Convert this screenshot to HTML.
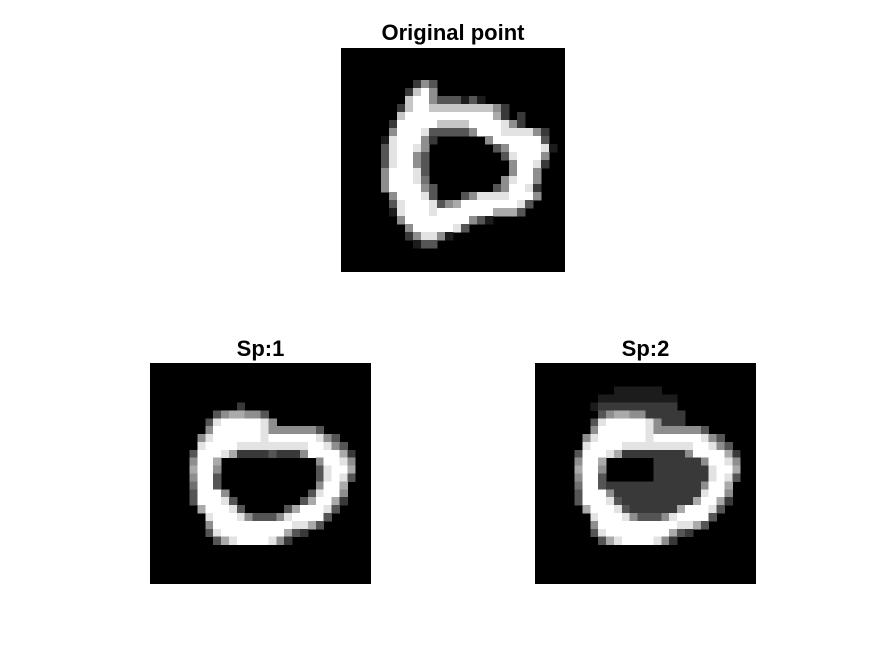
<!DOCTYPE html>
<html><head><meta charset="utf-8"><style>
body{margin:0;background:#fff;width:875px;height:656px;overflow:hidden;font-family:"Liberation Sans",Arial,sans-serif}
svg{position:absolute;left:0;top:0}
</style></head><body>
<svg id="fig" width="875" height="656">
<text x="453" y="40" text-anchor="middle" font-size="22" font-weight="bold">Original point</text>
<text x="260.5" y="356" text-anchor="middle" font-size="22" font-weight="bold">Sp:1</text>
<text x="645.5" y="356" text-anchor="middle" font-size="22" font-weight="bold">Sp:2</text>
</svg>
<script>
const Z="0000000000000000000000000000";
const imgOriginal=[Z,Z,Z,Z,
"0000000002530000000000000000","0000000027950000000000000000","0000000079953331310000000000",
"0000000279977777777520000000","0000000799999999999620200000","0000002999997777999985200000",
"0000005999833333599988885200","0000018999520000005999999300","0000038998500000000359999810",
"0000038995300000000038999500","0000038995300000000005998200","0000059998300000000005995000",
"0000059998400000000058995000","0000059999530000000359982000","0000005999830003588889995000",
"0000003899983569999999830000","0000001899989999999666300000","0000000599999999531000000000",
"0000000059999983000000000000","0000000025885100000000000000","0000000001330000000000000000",Z,Z,Z];
const imgSp1=[Z,Z,Z,Z,Z,
"0000000000020000000000000000","0000000035665530000000000000","0000000389999985000000000000",
"0000000599999985555553000000","0000005899999989999998530000","0000008999988888888899853000",
"0000039998622223222599996200","0000059960000000000005998500","0000069950000000000003899600",
"0000059930000000000003898300","0000049930000000000005996000","0000039995000000000038995000",
"0000039998300000000369962000","0000006999830000036999830000","0000000899985333589999300000",
"0000000599999999998863000000","0000000389999999963200000000","0000000036899998520000000000",Z,Z,Z,Z,Z];
const imgSp2=[Z,Z,Z,
"0000000000111111000000000000","0000000011111111110000000000","0000000122222222220000000000",
"0000000035665522222000000000","0000000389999985222000000000",
"0000000599999985555553000000","0000005899999989999998530000","0000008999988888888899853000",
"0000039998622222222599996200","0000059960000002222225998500","0000069950000002222222899600",
"0000059930000002222222898300","0000049932222222222225996000","0000039995222222222228995000",
"0000039998322222222269962000","0000006999832222226999830000","0000000899985333589999300000",
"0000000599999999998863000000","0000000389999999963200000000","0000000036899998520000000000",Z,Z,Z,Z,Z];
const NS="http://www.w3.org/2000/svg";
const svg=document.getElementById('fig');
function draw(img,x0,y0,size,name){
  const g=document.createElementNS(NS,'g');
  
  
  g.setAttribute('shape-rendering','crispEdges');
  const bg=document.createElementNS(NS,'rect');
  bg.setAttribute('x',x0);bg.setAttribute('y',y0);bg.setAttribute('width',size);bg.setAttribute('height',size);bg.setAttribute('fill','#000');
  
  
  g.appendChild(bg);
  const n=img.length, c=size/n;
  img.forEach((row,r)=>{for(let k=0;k<row.length;k++){const v=+row[k];if(!v)continue;
    const s=Math.round(v/9*255);
    const p=document.createElementNS(NS,'rect');
    p.setAttribute('x',x0+k*c);p.setAttribute('y',y0+r*c);p.setAttribute('width',c+0.5);p.setAttribute('height',c+0.5);
    p.setAttribute('fill',`rgb(${s},${s},${s})`);
    
    
    g.appendChild(p);}});
  svg.appendChild(g);
}
draw(imgOriginal,341,48,224,'image-original-point');
draw(imgSp1,150,363,221,'image-sp1');
draw(imgSp2,535,363,221,'image-sp2');
</script>
</body></html>
